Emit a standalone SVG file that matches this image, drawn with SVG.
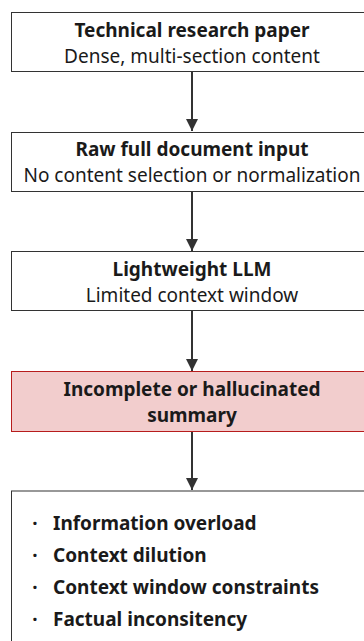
<svg xmlns="http://www.w3.org/2000/svg" width="364" height="641" viewBox="0 0 364 641">
<defs>
<style>
.box{fill:#ffffff;stroke:#333333;stroke-width:1}
.bad{fill:#f2cdcd;stroke:#b71c1c;stroke-width:1}
.t{font-family:"Noto Sans","Open Sans",sans-serif;font-size:19px;fill:#1a1a1a;text-anchor:middle}
.b{font-weight:bold}
.li{font-family:"Noto Sans","Open Sans",sans-serif;font-size:19px;font-weight:bold;fill:#1a1a1a}
.dot{text-anchor:middle}
.edge{stroke:#333333;stroke-width:2;fill:none}
</style>
<marker id="ah" viewBox="0 0 10 10" refX="10" refY="5" markerWidth="6" markerHeight="6" markerUnits="strokeWidth" orient="auto">
<path d="M0,0 L10,5 L0,10 Z" fill="#333333"/>
</marker>
</defs>
<rect width="364" height="641" fill="#ffffff"/>
<g id="edges">
<line class="edge" x1="192" y1="72" x2="192" y2="131" marker-end="url(#ah)"/>
<line class="edge" x1="192" y1="192" x2="192" y2="251" marker-end="url(#ah)"/>
<line class="edge" x1="192" y1="311" x2="192" y2="371" marker-end="url(#ah)"/>
<line class="edge" x1="192" y1="432" x2="192" y2="490" marker-end="url(#ah)"/>
</g>
<g id="n1">
<rect class="box" x="11.5" y="12.5" width="361" height="59"/>
<text class="t b" x="192" y="36.5">Technical research paper</text>
<text class="t" x="192" y="62.5">Dense, multi-section content</text>
</g>
<g id="n2">
<rect class="box" x="11.5" y="132.5" width="361" height="59"/>
<text class="t b" x="192" y="155.5">Raw full document input</text>
<text class="t" x="192" y="182">No content selection or normalization</text>
</g>
<g id="n3">
<rect class="box" x="11.5" y="251.5" width="361" height="59"/>
<text class="t b" x="192" y="275.5">Lightweight LLM</text>
<text class="t" x="192" y="302">Limited context window</text>
</g>
<g id="n4">
<rect class="bad" x="11.5" y="371.5" width="361" height="60"/>
<text class="t b" x="192" y="395.5">Incomplete or hallucinated</text>
<text class="t b" x="192" y="422">summary</text>
</g>
<g id="n5">
<rect class="box" x="11.5" y="491" width="361" height="160"/>
<text class="li dot" x="35" y="530">·</text>
<text class="li" x="53" y="530">Information overload</text>
<text class="li dot" x="35" y="562">·</text>
<text class="li" x="53" y="562">Context dilution</text>
<text class="li dot" x="35" y="594">·</text>
<text class="li" x="53" y="594">Context window constraints</text>
<text class="li dot" x="35" y="626">·</text>
<text class="li" x="53" y="626">Factual inconsitency</text>
</g>
</svg>
